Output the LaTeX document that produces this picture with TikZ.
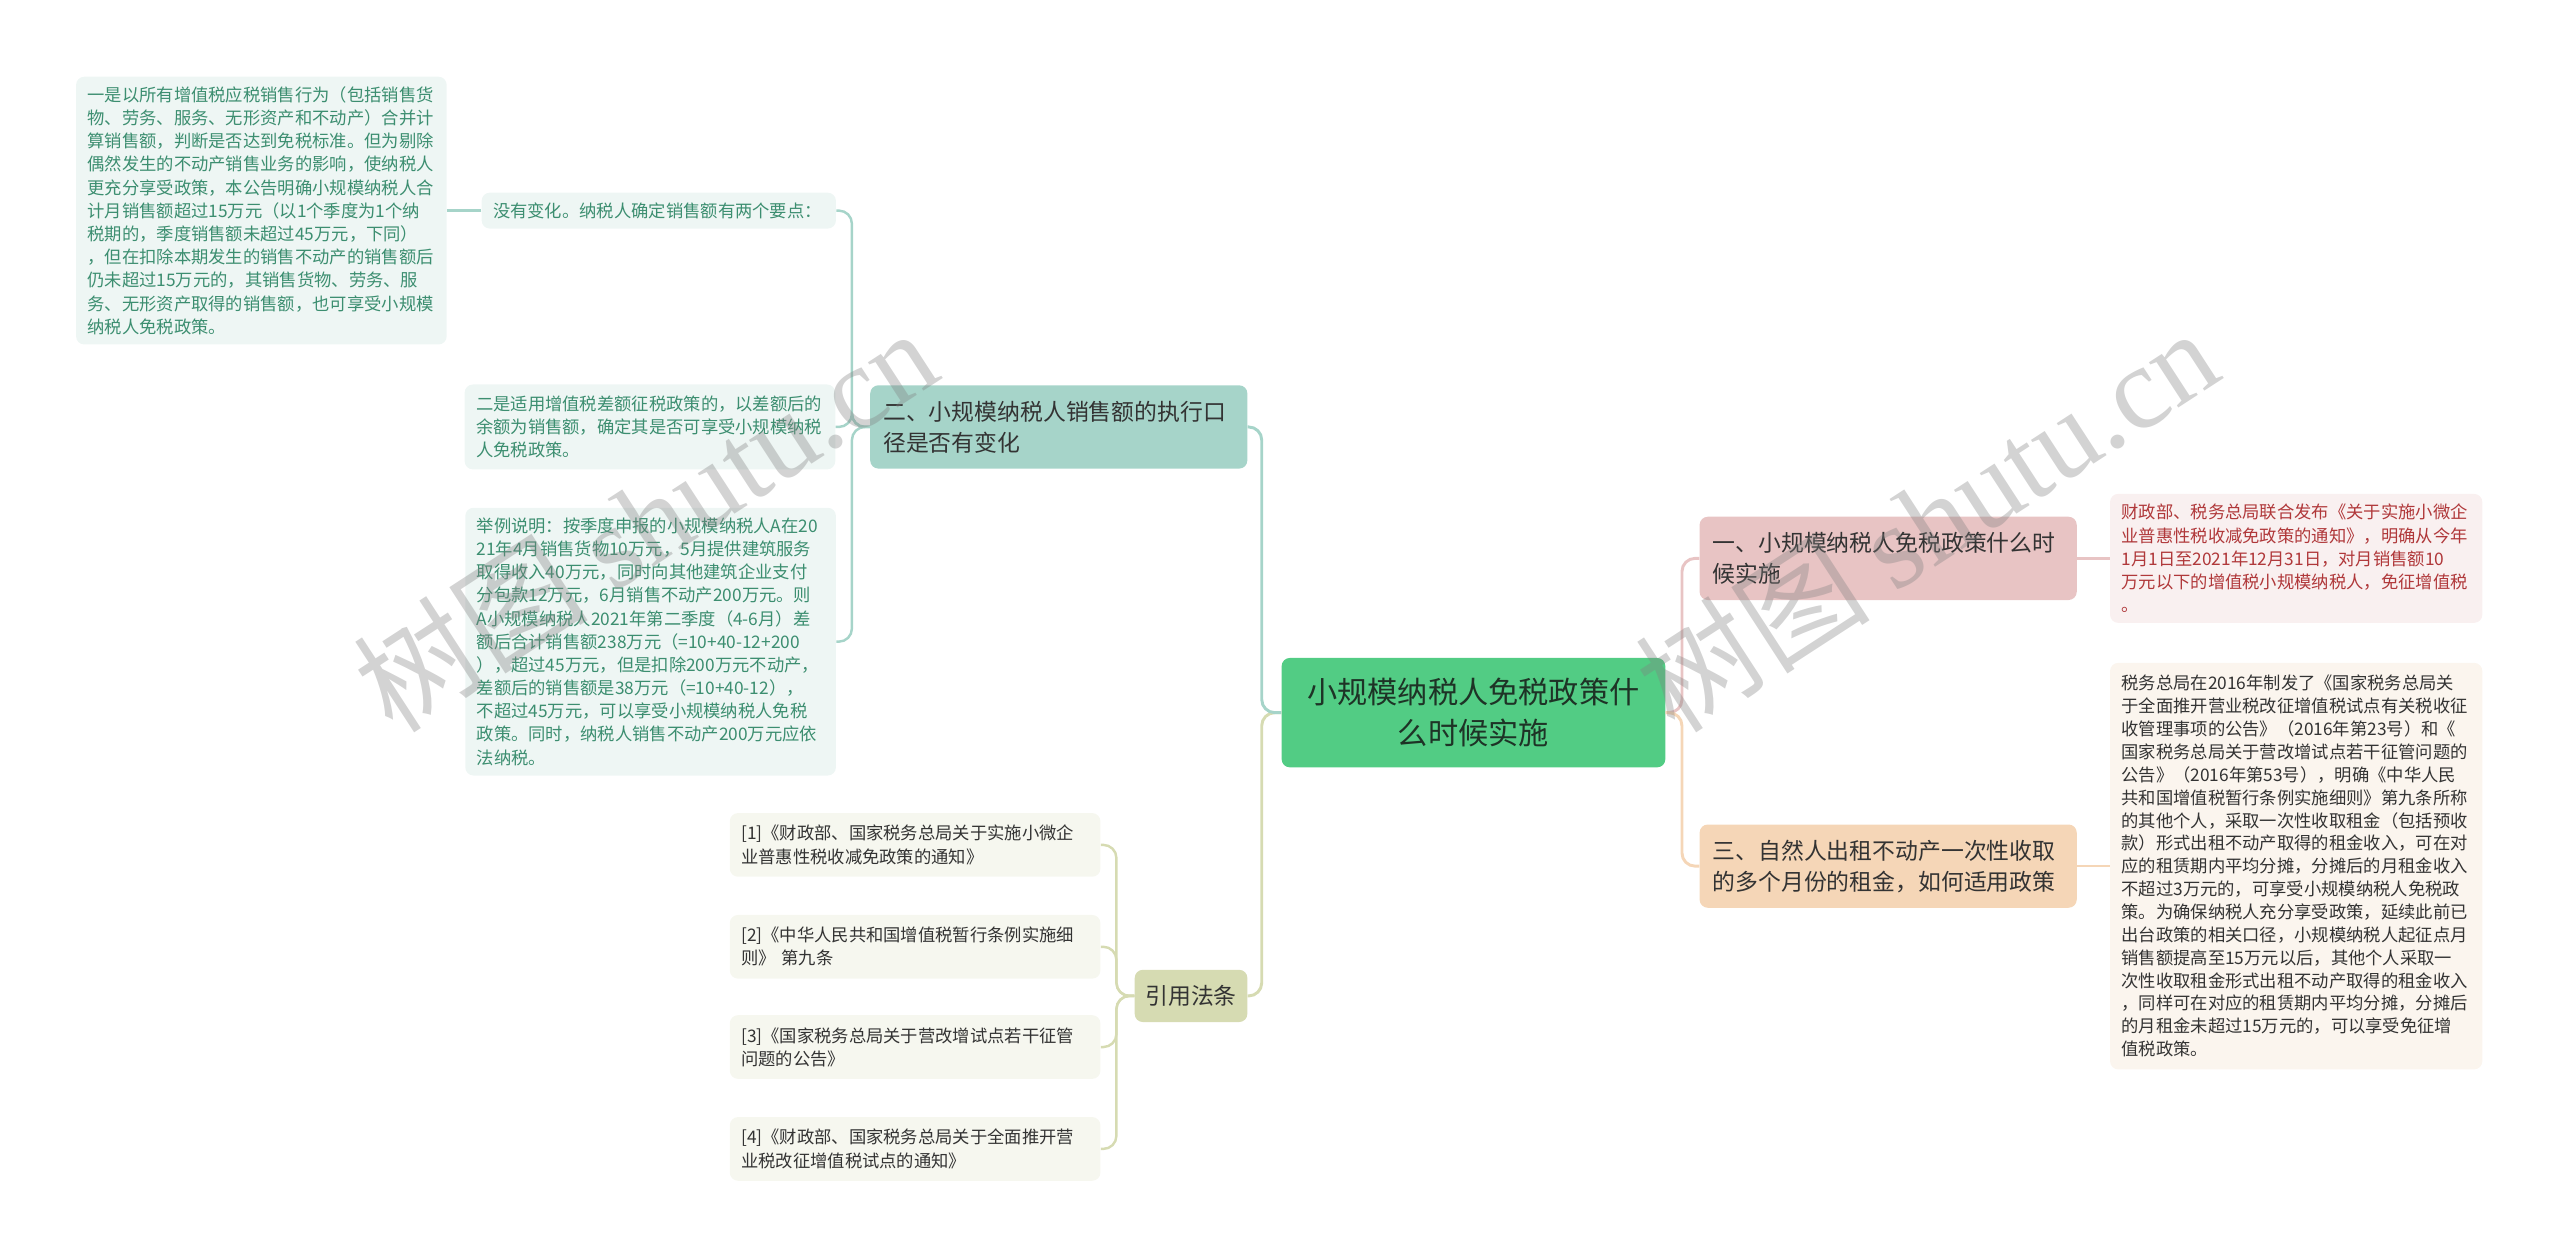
\documentclass[tikz,border=0pt]{standalone}
\usepackage{fontspec}
\setmainfont{Noto Sans CJK SC}
\newfontfamily\markfont{Liberation Serif}
\usepackage{tikz}
\usetikzlibrary{positioning}

\definecolor{rootfill}{HTML}{52CC84}
\definecolor{rootink}{HTML}{1E3326}
\definecolor{tealfill}{HTML}{A6D4C9}
\definecolor{tealleaf}{HTML}{EEF6F4}
\definecolor{tealink}{HTML}{3C8E70}
\definecolor{olivefill}{HTML}{D6DBB2}
\definecolor{oliveleaf}{HTML}{F6F7EF}
\definecolor{pinkfill}{HTML}{E8C4C4}
\definecolor{pinkleaf}{HTML}{F9F0F0}
\definecolor{redink}{HTML}{B0383A}
\definecolor{peachfill}{HTML}{F5D6B7}
\definecolor{peachleaf}{HTML}{FBF5EE}
\definecolor{darkink}{HTML}{333333}

\begin{document}
\begin{tikzpicture}[
  x=1pt, y=1pt,
  every node/.style={inner sep=0pt, rounded corners=5pt},
  main/.style={fill=rootfill, text=rootink, align=center, minimum width=235pt,
    minimum height=67pt, font=\fontsize{18.5}{25}\selectfont},
  topic/.style={text=darkink, align=left, text width=215pt, inner xsep=8pt,
    minimum height=51pt, font=\fontsize{14}{19}\selectfont},
  leaf/.style={align=left, text width=213pt, inner xsep=7pt,
    font=\fontsize{10.6}{14.2}\selectfont},
  link/.style={draw=#1, line width=1.8pt, rounded corners=8pt}
]
  \useasboundingbox (0,0) rectangle (1568,-771);

  % Root and first level
  \node (root) [main] at (902.5,-436.5) {小规模纳税人免税政策什\\么时候实施};
  \node (b2) [topic, fill=tealfill] at (648.5,-261.5) {二、小规模纳税人销售额的执行口\\径是否有变化};
  \node (bref) [topic, fill=olivefill, text width=56pt, inner xsep=6.5pt,
    minimum height=32pt] at (729.5,-610) {引用法条};
  \node (b1) [topic, fill=pinkfill] at (1156.5,-342) {一、小规模纳税人免税政策什么时\\候实施};
  \node (b3) [topic, fill=peachfill] at (1156.5,-530.5) {三、自然人出租不动产一次性收取\\的多个月份的租金，如何适用政策};

  % Leaves under b2
  \node (nochange) [leaf, fill=tealleaf, text=tealink, text width=203pt,
    minimum height=22pt] at (403.5,-129) {没有变化。纳税人确定销售额有两个要点：};
  \node (one) [leaf, fill=tealleaf, text=tealink, minimum height=164pt,
    left=21pt of nochange] {一是以所有增值税应税销售行为（包括销售货\\物、劳务、服务、无形资产和不动产）合并计\\算销售额，判断是否达到免税标准。但为剔除\\偶然发生的不动产销售业务的影响，使纳税人\\更充分享受政策，本公告明确小规模纳税人合\\计月销售额超过15万元（以1个季度为1个纳\\税期的，季度销售额未超过45万元，下同）\\，但在扣除本期发生的销售不动产的销售额后\\仍未超过15万元的，其销售货物、劳务、服\\务、无形资产取得的销售额，也可享受小规模\\纳税人免税政策。};
  \node (two) [leaf, fill=tealleaf, text=tealink, minimum height=52pt,
    left=21pt of b2] {二是适用增值税差额征税政策的，以差额后的\\余额为销售额，确定其是否可享受小规模纳税\\人免税政策。};
  \node (eg) [leaf, fill=tealleaf, text=tealink, minimum height=164pt]
    at (398.5,-393) {举例说明：按季度申报的小规模纳税人A在20\\21年4月销售货物10万元，5月提供建筑服务\\取得收入40万元，同时向其他建筑企业支付\\分包款12万元，6月销售不动产200万元。则\\A小规模纳税人2021年第二季度（4-6月）差\\额后合计销售额238万元（=10+40-12+200\\），超过45万元，但是扣除200万元不动产，\\差额后的销售额是38万元（=10+40-12），\\不超过45万元，可以享受小规模纳税人免税\\政策。同时，纳税人销售不动产200万元应依\\法纳税。};

  % References
  \node (r1) [leaf, fill=oliveleaf, text=darkink, minimum height=39pt]
    at (560.5,-517.5) {[1]《财政部、国家税务总局关于实施小微企\\业普惠性税收减免政策的通知》};
  \node (r2) [leaf, fill=oliveleaf, text=darkink, minimum height=39pt,
    below=23pt of r1] {[2]《中华人民共和国增值税暂行条例实施细\\则》 第九条};
  \node (r3) [leaf, fill=oliveleaf, text=darkink, minimum height=39pt,
    below=22pt of r2] {[3]《国家税务总局关于营改增试点若干征管\\问题的公告》};
  \node (r4) [leaf, fill=oliveleaf, text=darkink, minimum height=39pt,
    below=23pt of r3] {[4]《财政部、国家税务总局关于全面推开营\\业税改征增值税试点的通知》};

  % Right leaves
  \node (p1) [leaf, fill=pinkleaf, text=redink, text width=214pt,
    minimum height=79pt, right=20pt of b1] {财政部、税务总局联合发布《关于实施小微企\\业普惠性税收减免政策的通知》，明确从今年\\1月1日至2021年12月31日，对月销售额10\\万元以下的增值税小规模纳税人，免征增值税\\。};
  \node (p3) [leaf, fill=peachleaf, text=darkink, text width=214pt,
    minimum height=249pt, right=20pt of b3,
    font=\fontsize{10.6}{14}\selectfont] {税务总局在2016年制发了《国家税务总局关\\于全面推开营业税改征增值税试点有关税收征\\收管理事项的公告》（2016年第23号）和《\\国家税务总局关于营改增试点若干征管问题的\\公告》（2016年第53号），明确《中华人民\\共和国增值税暂行条例实施细则》第九条所称\\的其他个人，采取一次性收取租金（包括预收\\款）形式出租不动产取得的租金收入，可在对\\应的租赁期内平均分摊，分摊后的月租金收入\\不超过3万元的，可享受小规模纳税人免税政\\策。为确保纳税人充分享受政策，延续此前已\\出台政策的相关口径，小规模纳税人起征点月\\销售额提高至15万元以后，其他个人采取一\\次性收取租金形式出租不动产取得的租金收入\\，同样可在对应的租赁期内平均分摊，分摊后\\的月租金未超过15万元的，可以享受免征增\\值税政策。};

  % Connectors
  \draw[link=olivefill] (root.west) -- ++(-12,0) |- (bref.east);
  \draw[link=tealfill] (root.west) -- ++(-12,0) |- (b2.east);
  \draw[link=pinkfill] (root.east) -- ++(10,0) |- (b1.west);
  \draw[link=peachfill] (root.east) -- ++(10,0) |- (b3.west);
  \foreach \n in {nochange,two,eg}
    \draw[link=tealfill, line width=1.5pt] (b2.west) -- ++(-11,0) |- (\n.east);
  \draw[link=tealfill, line width=1.5pt] (nochange.west) -- (one.east);
  \foreach \n in {r1,r2,r3,r4}
    \draw[link=olivefill, line width=1.5pt] (bref.west) -- ++(-11,0) |- (\n.east);
  \draw[link=pinkfill, line width=1.5pt] (b1.east) -- (p1.west);
  \draw[link=peachfill, line width=1.5pt] (b3.east) -- (p3.west);

  % Watermarks
  \node (wm1) [rotate=33, text=gray, opacity=0.35, font=\fontsize{72}{72}\selectfont]
    at (395,-318) {树图 {\markfont shutu.cn}};
  \node (wm2) [rotate=33, text=gray, opacity=0.35, font=\fontsize{72}{72}\selectfont]
    at (1180,-318) {树图 {\markfont shutu.cn}};
\end{tikzpicture}
\end{document}
